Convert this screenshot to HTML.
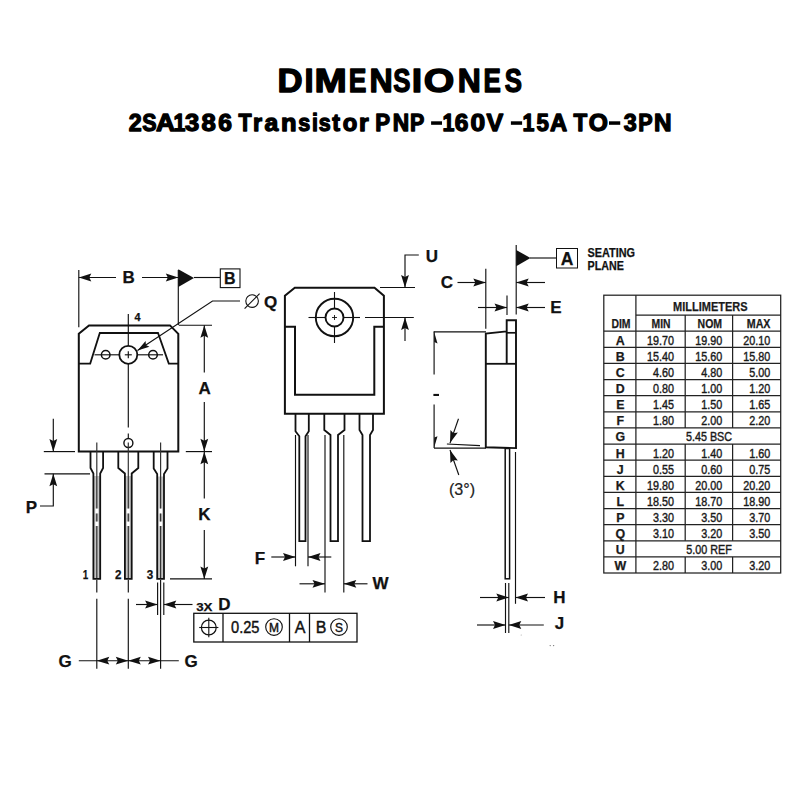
<!DOCTYPE html>
<html><head><meta charset="utf-8"><style>
html,body{margin:0;padding:0;background:#fff;width:800px;height:800px;overflow:hidden}
svg{display:block}
</style></head><body>
<svg width="800" height="800" viewBox="0 0 800 800">
<rect width="800" height="800" fill="#fff"/>
<path d="M89,325.4 L170,325.4 L178.3,333.8 L178.3,451.6 L78.8,451.6 L78.8,333.8 Z" fill="none" stroke="#111" stroke-width="2.0" stroke-linejoin="miter"/>
<path d="M78.8,363.6 L90.2,363.6 L99.8,333 L158,333 L168.8,363.6 L178.3,363.6" fill="none" stroke="#111" stroke-width="1.8" stroke-linejoin="miter"/>
<circle cx="128.3" cy="354.8" r="9.0" fill="none" stroke="#111" stroke-width="1.8"/>
<line x1="124.8" y1="354.8" x2="131.8" y2="354.8" stroke="#111" stroke-width="1.15" />
<line x1="128.3" y1="351.3" x2="128.3" y2="358.3" stroke="#111" stroke-width="1.15" />
<circle cx="105.7" cy="354.8" r="4.3" fill="none" stroke="#111" stroke-width="1.5"/>
<circle cx="153" cy="354.8" r="4.3" fill="none" stroke="#111" stroke-width="1.5"/>
<line x1="94.5" y1="354.8" x2="119.3" y2="354.8" stroke="#111" stroke-width="1.15" />
<line x1="137.3" y1="354.8" x2="163" y2="354.8" stroke="#111" stroke-width="1.15" />
<line x1="128.3" y1="314" x2="128.3" y2="345.8" stroke="#111" stroke-width="1.15" />
<line x1="128.3" y1="363.8" x2="128.3" y2="427.5" stroke="#111" stroke-width="1.15" />
<line x1="128.3" y1="433.5" x2="128.3" y2="438" stroke="#111" stroke-width="1.15" />
<circle cx="128.4" cy="443" r="4.5" fill="none" stroke="#111" stroke-width="1.4"/>
<text x="137.5" y="320.5" font-family="Liberation Sans" font-size="10" font-weight="bold" text-anchor="middle" fill="#111" textLength="6" lengthAdjust="spacingAndGlyphs" stroke="#111" stroke-width="0.25">4</text>
<line x1="78.8" y1="270" x2="78.8" y2="327.2" stroke="#111" stroke-width="1.15" />
<line x1="178.3" y1="270" x2="178.3" y2="325" stroke="#111" stroke-width="1.15" />
<line x1="116" y1="277.5" x2="78.8" y2="277.5" stroke="#111" stroke-width="1.15" />
<path d="M78.80,277.50 L91.30,281.40 L89.30,277.50 L91.30,273.60 Z" fill="#111" stroke="none"/>
<line x1="142" y1="277.5" x2="178.3" y2="277.5" stroke="#111" stroke-width="1.15" />
<path d="M178.30,277.50 L165.80,273.60 L167.80,277.50 L165.80,281.40 Z" fill="#111" stroke="none"/>
<text x="128.75" y="283.2" font-family="Liberation Sans" font-size="17" font-weight="bold" text-anchor="middle" fill="#111" stroke="#111" stroke-width="0.25">B</text>
<path d="M178.3,269.3 L194,278 L178.3,287 Z" fill="#111"/>
<line x1="194" y1="277.5" x2="220" y2="277.5" stroke="#111" stroke-width="1.15" />
<rect x="220.3" y="268.9" width="19.7" height="18.7" fill="none" stroke="#111" stroke-width="1.1"/>
<text x="229.8" y="284.4" font-family="Liberation Sans" font-size="16" font-weight="bold" text-anchor="middle" fill="#111" stroke="#111" stroke-width="0.25">B</text>
<path d="M240,301 L212.5,301 L137.5,350.5" fill="none" stroke="#111" stroke-width="1.15" stroke-linejoin="miter"/>
<path d="M137.50,350.50 L149.44,346.81 L145.91,344.95 L145.59,340.97 Z" fill="#111" stroke="none"/>
<circle cx="252.1" cy="301.1" r="6.3" fill="none" stroke="#111" stroke-width="1.1"/>
<line x1="244.6" y1="308.6" x2="259.6" y2="293.6" stroke="#111" stroke-width="1.1" />
<text x="264" y="308.0" font-family="Liberation Sans" font-size="17" font-weight="bold" text-anchor="start" fill="#111" stroke="#111" stroke-width="0.25">Q</text>
<line x1="178.8" y1="325.2" x2="212" y2="325.2" stroke="#111" stroke-width="1.15" />
<line x1="204.3" y1="372.5" x2="204.3" y2="325.2" stroke="#111" stroke-width="1.15" />
<path d="M204.30,325.20 L200.40,337.70 L204.30,335.70 L208.20,337.70 Z" fill="#111" stroke="none"/>
<text x="204.6" y="393.7" font-family="Liberation Sans" font-size="17" font-weight="bold" text-anchor="middle" fill="#111" stroke="#111" stroke-width="0.25">A</text>
<line x1="204.3" y1="402" x2="204.3" y2="451.3" stroke="#111" stroke-width="1.15" />
<path d="M204.30,451.30 L208.20,438.80 L204.30,440.80 L200.40,438.80 Z" fill="#111" stroke="none"/>
<line x1="185.8" y1="451.6" x2="212" y2="451.6" stroke="#111" stroke-width="1.15" />
<line x1="204.3" y1="498.5" x2="204.3" y2="451.8" stroke="#111" stroke-width="1.15" />
<path d="M204.30,451.80 L200.40,464.30 L204.30,462.30 L208.20,464.30 Z" fill="#111" stroke="none"/>
<text x="204.3" y="520.4" font-family="Liberation Sans" font-size="17" font-weight="bold" text-anchor="middle" fill="#111" stroke="#111" stroke-width="0.25">K</text>
<line x1="204.3" y1="530" x2="204.3" y2="579" stroke="#111" stroke-width="1.15" />
<path d="M204.30,579.00 L208.20,566.50 L204.30,568.50 L200.40,566.50 Z" fill="#111" stroke="none"/>
<line x1="170" y1="578.8" x2="212" y2="578.8" stroke="#111" stroke-width="1.15" />
<rect x="93.40" y="476.00" width="6.80" height="102.80" fill="#c4c4c4"/>
<path d="M90.5,451.6 L90.5,468 L93.39999999999999,473.5 L93.39999999999999,578.8 L100.2,578.8 L100.2,473.5 L103.1,468 L103.1,451.6" fill="none" stroke="#111" stroke-width="1.8" stroke-linejoin="miter"/>
<rect x="124.90" y="476.00" width="6.80" height="102.80" fill="#c4c4c4"/>
<path d="M118.30000000000001,451.6 L118.30000000000001,468 L124.9,473.5 L124.9,578.8 L131.70000000000002,578.8 L131.70000000000002,473.5 L138.3,468 L138.3,451.6" fill="none" stroke="#111" stroke-width="1.8" stroke-linejoin="miter"/>
<rect x="157.20" y="476.50" width="6.80" height="102.30" fill="#c4c4c4"/>
<path d="M153.7,451.6 L153.7,468.5 L157.2,474.0 L157.2,578.8 L164.0,578.8 L164.0,474.0 L167.5,468.5 L167.5,451.6" fill="none" stroke="#111" stroke-width="1.8" stroke-linejoin="miter"/>
<rect x="95.3" y="508.5" width="3" height="5" fill="#fff"/><rect x="95.3" y="521.5" width="3" height="4.5" fill="#fff"/>
<line x1="96.8" y1="442.5" x2="96.8" y2="508.5" stroke="#333" stroke-width="1.2" />
<line x1="96.8" y1="513.5" x2="96.8" y2="521.5" stroke="#333" stroke-width="1.2" />
<line x1="96.8" y1="526" x2="96.8" y2="578" stroke="#333" stroke-width="1.2" />
<rect x="126.80000000000001" y="508.5" width="3" height="5" fill="#fff"/><rect x="126.80000000000001" y="521.5" width="3" height="4.5" fill="#fff"/>
<line x1="128.3" y1="442.5" x2="128.3" y2="508.5" stroke="#333" stroke-width="1.2" />
<line x1="128.3" y1="513.5" x2="128.3" y2="521.5" stroke="#333" stroke-width="1.2" />
<line x1="128.3" y1="526" x2="128.3" y2="578" stroke="#333" stroke-width="1.2" />
<rect x="159.1" y="508.5" width="3" height="5" fill="#fff"/><rect x="159.1" y="521.5" width="3" height="4.5" fill="#fff"/>
<line x1="160.6" y1="442.5" x2="160.6" y2="508.5" stroke="#333" stroke-width="1.2" />
<line x1="160.6" y1="513.5" x2="160.6" y2="521.5" stroke="#333" stroke-width="1.2" />
<line x1="160.6" y1="526" x2="160.6" y2="578" stroke="#333" stroke-width="1.2" />
<text x="85.6" y="578.5" font-family="Liberation Sans" font-size="13" font-weight="bold" text-anchor="middle" fill="#111" textLength="5.5" lengthAdjust="spacingAndGlyphs" stroke="#111" stroke-width="0.25">1</text>
<text x="118.3" y="578.5" font-family="Liberation Sans" font-size="13" font-weight="bold" text-anchor="middle" fill="#111" textLength="6.5" lengthAdjust="spacingAndGlyphs" stroke="#111" stroke-width="0.25">2</text>
<text x="150" y="578.5" font-family="Liberation Sans" font-size="13" font-weight="bold" text-anchor="middle" fill="#111" textLength="6.5" lengthAdjust="spacingAndGlyphs" stroke="#111" stroke-width="0.25">3</text>
<line x1="43.8" y1="451.6" x2="75" y2="451.6" stroke="#111" stroke-width="1.15" />
<line x1="44.5" y1="473.8" x2="90" y2="473.8" stroke="#111" stroke-width="1.15" />
<line x1="53.3" y1="418.8" x2="53.3" y2="451.6" stroke="#111" stroke-width="1.15" />
<path d="M53.30,451.60 L57.20,439.10 L53.30,441.10 L49.40,439.10 Z" fill="#111" stroke="none"/>
<path d="M40,506 L53.3,506 L53.3,473.8" fill="none" stroke="#111" stroke-width="1.15" stroke-linejoin="miter"/>
<path d="M53.30,473.80 L49.40,486.30 L53.30,484.30 L57.20,486.30 Z" fill="#111" stroke="none"/>
<text x="31.3" y="513.1" font-family="Liberation Sans" font-size="17" font-weight="bold" text-anchor="middle" fill="#111" stroke="#111" stroke-width="0.25">P</text>
<line x1="96.8" y1="580" x2="96.8" y2="592.5" stroke="#111" stroke-width="1.15" />
<line x1="96.8" y1="598.7" x2="96.8" y2="668.8" stroke="#111" stroke-width="1.15" />
<line x1="128.3" y1="580" x2="128.3" y2="592.5" stroke="#111" stroke-width="1.15" />
<line x1="128.3" y1="598.7" x2="128.3" y2="668.8" stroke="#111" stroke-width="1.15" />
<line x1="160.6" y1="580" x2="160.6" y2="668.8" stroke="#111" stroke-width="1.15" />
<line x1="157.6" y1="582.5" x2="157.6" y2="615" stroke="#111" stroke-width="1.15" />
<line x1="163.8" y1="582.5" x2="163.8" y2="615" stroke="#111" stroke-width="1.15" />
<line x1="136" y1="604.5" x2="157.6" y2="604.5" stroke="#111" stroke-width="1.15" />
<path d="M157.60,604.50 L145.10,600.60 L147.10,604.50 L145.10,608.40 Z" fill="#111" stroke="none"/>
<line x1="192.5" y1="604.5" x2="163.8" y2="604.5" stroke="#111" stroke-width="1.15" />
<path d="M163.80,604.50 L176.30,608.40 L174.30,604.50 L176.30,600.60 Z" fill="#111" stroke="none"/>
<text x="196.2" y="610.5" font-family="Liberation Sans" font-size="11.5" font-weight="bold" text-anchor="start" fill="#111" textLength="16.3" lengthAdjust="spacingAndGlyphs" stroke="#111" stroke-width="0.25">3X</text>
<text x="218.2" y="609.9" font-family="Liberation Sans" font-size="17" font-weight="bold" text-anchor="start" fill="#111" stroke="#111" stroke-width="0.25">D</text>
<line x1="78.8" y1="660.7" x2="178.8" y2="660.7" stroke="#111" stroke-width="1.15" />
<path d="M96.80,660.70 L109.30,664.60 L107.30,660.70 L109.30,656.80 Z" fill="#111" stroke="none"/>
<path d="M128.30,660.70 L115.80,656.80 L117.80,660.70 L115.80,664.60 Z" fill="#111" stroke="none"/>
<path d="M128.30,660.70 L140.80,664.60 L138.80,660.70 L140.80,656.80 Z" fill="#111" stroke="none"/>
<path d="M160.50,660.70 L148.00,656.80 L150.00,660.70 L148.00,664.60 Z" fill="#111" stroke="none"/>
<text x="65" y="666.9" font-family="Liberation Sans" font-size="17" font-weight="bold" text-anchor="middle" fill="#111" stroke="#111" stroke-width="0.25">G</text>
<text x="191" y="666.9" font-family="Liberation Sans" font-size="17" font-weight="bold" text-anchor="middle" fill="#111" stroke="#111" stroke-width="0.25">G</text>
<text transform="translate(277.48,92.05) scale(1.0277,1)" font-family="Liberation Sans" font-size="33.79" font-weight="bold" fill="#000" stroke="#000" stroke-width="1.4" stroke-linejoin="round">D</text>
<text transform="translate(304.42,92.05) scale(0.9655,1)" font-family="Liberation Sans" font-size="33.79" font-weight="bold" fill="#000" stroke="#000" stroke-width="1.4" stroke-linejoin="round">I</text>
<text transform="translate(314.51,92.05) scale(1.1469,1)" font-family="Liberation Sans" font-size="33.79" font-weight="bold" fill="#000" stroke="#000" stroke-width="1.4" stroke-linejoin="round">M</text>
<text transform="translate(348.68,92.05) scale(0.7832,1)" font-family="Liberation Sans" font-size="33.79" font-weight="bold" fill="#000" stroke="#000" stroke-width="1.4" stroke-linejoin="round">E</text>
<text transform="translate(369.45,92.05) scale(0.9513,1)" font-family="Liberation Sans" font-size="33.79" font-weight="bold" fill="#000" stroke="#000" stroke-width="1.4" stroke-linejoin="round">N</text>
<text transform="translate(393.36,92.05) scale(0.7631,1)" font-family="Liberation Sans" font-size="33.79" font-weight="bold" fill="#000" stroke="#000" stroke-width="1.4" stroke-linejoin="round">S</text>
<text transform="translate(411.79,92.05) scale(1.1093,1)" font-family="Liberation Sans" font-size="33.79" font-weight="bold" fill="#000" stroke="#000" stroke-width="1.4" stroke-linejoin="round">I</text>
<text transform="translate(423.69,92.05) scale(1.1626,1)" font-family="Liberation Sans" font-size="33.79" font-weight="bold" fill="#000" stroke="#000" stroke-width="1.4" stroke-linejoin="round">O</text>
<text transform="translate(457.76,92.05) scale(0.9463,1)" font-family="Liberation Sans" font-size="33.79" font-weight="bold" fill="#000" stroke="#000" stroke-width="1.4" stroke-linejoin="round">N</text>
<text transform="translate(483.46,92.05) scale(0.7701,1)" font-family="Liberation Sans" font-size="33.79" font-weight="bold" fill="#000" stroke="#000" stroke-width="1.4" stroke-linejoin="round">E</text>
<text transform="translate(504.71,92.05) scale(0.7631,1)" font-family="Liberation Sans" font-size="33.79" font-weight="bold" fill="#000" stroke="#000" stroke-width="1.4" stroke-linejoin="round">S</text>
<text transform="translate(128.84,131.35) scale(0.9774,1)" font-family="Liberation Sans" font-size="23.80" font-weight="bold" fill="#000" stroke="#000" stroke-width="1.3" stroke-linejoin="round">2</text>
<text transform="translate(142.22,131.35) scale(0.9000,1)" font-family="Liberation Sans" font-size="23.80" font-weight="bold" fill="#000" stroke="#000" stroke-width="1.3" stroke-linejoin="round">S</text>
<text transform="translate(155.99,131.35) scale(1.1085,1)" font-family="Liberation Sans" font-size="23.80" font-weight="bold" fill="#000" stroke="#000" stroke-width="1.3" stroke-linejoin="round">A</text>
<text transform="translate(173.42,131.35) scale(0.9000,1)" font-family="Liberation Sans" font-size="23.80" font-weight="bold" fill="#000" stroke="#000" stroke-width="1.3" stroke-linejoin="round">1</text>
<text transform="translate(185.06,131.35) scale(1.0735,1)" font-family="Liberation Sans" font-size="23.80" font-weight="bold" fill="#000" stroke="#000" stroke-width="1.3" stroke-linejoin="round">3</text>
<text transform="translate(201.43,131.35) scale(1.0809,1)" font-family="Liberation Sans" font-size="23.80" font-weight="bold" fill="#000" stroke="#000" stroke-width="1.3" stroke-linejoin="round">8</text>
<text transform="translate(218.15,131.35) scale(1.0343,1)" font-family="Liberation Sans" font-size="23.80" font-weight="bold" fill="#000" stroke="#000" stroke-width="1.3" stroke-linejoin="round">6</text>
<text transform="translate(238.55,131.35) scale(0.9000,1)" font-family="Liberation Sans" font-size="23.80" font-weight="bold" fill="#000" stroke="#000" stroke-width="1.3" stroke-linejoin="round">T</text>
<text transform="translate(253.11,131.35) scale(0.9819,1)" font-family="Liberation Sans" font-size="23.80" font-weight="bold" fill="#000" stroke="#000" stroke-width="1.3" stroke-linejoin="round">r</text>
<text transform="translate(264.42,131.35) scale(1.0402,1)" font-family="Liberation Sans" font-size="23.80" font-weight="bold" fill="#000" stroke="#000" stroke-width="1.3" stroke-linejoin="round">a</text>
<text transform="translate(280.97,131.35) scale(1.0702,1)" font-family="Liberation Sans" font-size="23.80" font-weight="bold" fill="#000" stroke="#000" stroke-width="1.3" stroke-linejoin="round">n</text>
<text transform="translate(298.14,131.35) scale(0.9060,1)" font-family="Liberation Sans" font-size="23.80" font-weight="bold" fill="#000" stroke="#000" stroke-width="1.3" stroke-linejoin="round">s</text>
<text transform="translate(311.98,131.35) scale(0.9000,1)" font-family="Liberation Sans" font-size="23.80" font-weight="bold" fill="#000" stroke="#000" stroke-width="1.3" stroke-linejoin="round">i</text>
<text transform="translate(318.86,131.35) scale(0.9000,1)" font-family="Liberation Sans" font-size="23.80" font-weight="bold" fill="#000" stroke="#000" stroke-width="1.3" stroke-linejoin="round">s</text>
<text transform="translate(332.37,131.35) scale(0.9803,1)" font-family="Liberation Sans" font-size="23.80" font-weight="bold" fill="#000" stroke="#000" stroke-width="1.3" stroke-linejoin="round">t</text>
<text transform="translate(342.72,131.35) scale(1.0017,1)" font-family="Liberation Sans" font-size="23.80" font-weight="bold" fill="#000" stroke="#000" stroke-width="1.3" stroke-linejoin="round">o</text>
<text transform="translate(359.00,131.35) scale(1.0501,1)" font-family="Liberation Sans" font-size="23.80" font-weight="bold" fill="#000" stroke="#000" stroke-width="1.3" stroke-linejoin="round">r</text>
<text transform="translate(375.16,131.35) scale(0.9355,1)" font-family="Liberation Sans" font-size="23.80" font-weight="bold" fill="#000" stroke="#000" stroke-width="1.3" stroke-linejoin="round">P</text>
<text transform="translate(392.73,131.35) scale(0.9541,1)" font-family="Liberation Sans" font-size="23.80" font-weight="bold" fill="#000" stroke="#000" stroke-width="1.3" stroke-linejoin="round">N</text>
<text transform="translate(409.96,131.35) scale(0.9000,1)" font-family="Liberation Sans" font-size="23.80" font-weight="bold" fill="#000" stroke="#000" stroke-width="1.3" stroke-linejoin="round">P</text>
<rect x="431.10" y="121.30" width="10.90" height="3.5" fill="#000"/>
<text transform="translate(442.42,131.35) scale(0.9000,1)" font-family="Liberation Sans" font-size="23.80" font-weight="bold" fill="#000" stroke="#000" stroke-width="1.3" stroke-linejoin="round">1</text>
<text transform="translate(454.85,131.35) scale(1.0300,1)" font-family="Liberation Sans" font-size="23.80" font-weight="bold" fill="#000" stroke="#000" stroke-width="1.3" stroke-linejoin="round">6</text>
<text transform="translate(470.51,131.35) scale(1.1088,1)" font-family="Liberation Sans" font-size="23.80" font-weight="bold" fill="#000" stroke="#000" stroke-width="1.3" stroke-linejoin="round">0</text>
<text transform="translate(486.58,131.35) scale(1.0515,1)" font-family="Liberation Sans" font-size="23.80" font-weight="bold" fill="#000" stroke="#000" stroke-width="1.3" stroke-linejoin="round">V</text>
<rect x="510.90" y="121.30" width="11.20" height="3.5" fill="#000"/>
<text transform="translate(522.54,131.35) scale(0.9000,1)" font-family="Liberation Sans" font-size="23.80" font-weight="bold" fill="#000" stroke="#000" stroke-width="1.3" stroke-linejoin="round">1</text>
<text transform="translate(536.46,131.35) scale(0.9374,1)" font-family="Liberation Sans" font-size="23.80" font-weight="bold" fill="#000" stroke="#000" stroke-width="1.3" stroke-linejoin="round">5</text>
<text transform="translate(550.06,131.35) scale(0.9989,1)" font-family="Liberation Sans" font-size="23.80" font-weight="bold" fill="#000" stroke="#000" stroke-width="1.3" stroke-linejoin="round">A</text>
<text transform="translate(573.40,131.35) scale(0.9418,1)" font-family="Liberation Sans" font-size="23.80" font-weight="bold" fill="#000" stroke="#000" stroke-width="1.3" stroke-linejoin="round">T</text>
<text transform="translate(588.74,131.35) scale(1.0341,1)" font-family="Liberation Sans" font-size="23.80" font-weight="bold" fill="#000" stroke="#000" stroke-width="1.3" stroke-linejoin="round">O</text>
<rect x="609.00" y="121.30" width="11.25" height="3.5" fill="#000"/>
<text transform="translate(623.71,131.35) scale(0.9805,1)" font-family="Liberation Sans" font-size="23.80" font-weight="bold" fill="#000" stroke="#000" stroke-width="1.3" stroke-linejoin="round">3</text>
<text transform="translate(638.21,131.35) scale(0.9058,1)" font-family="Liberation Sans" font-size="23.80" font-weight="bold" fill="#000" stroke="#000" stroke-width="1.3" stroke-linejoin="round">P</text>
<text transform="translate(654.02,131.35) scale(1.0220,1)" font-family="Liberation Sans" font-size="23.80" font-weight="bold" fill="#000" stroke="#000" stroke-width="1.3" stroke-linejoin="round">N</text>
<path d="M294.8,287.8 L374.5,287.8 L383.9,295.8 L383.9,413.8 L284.9,413.8 L284.9,295.8 Z" fill="none" stroke="#111" stroke-width="2.0" stroke-linejoin="miter"/>
<path d="M284.9,326.7 L295,326.7 L295,394.7 L374.3,394.7 L374.3,326.7 L383.9,326.7" fill="none" stroke="#111" stroke-width="2.0" stroke-linejoin="miter"/>
<circle cx="334.5" cy="317.5" r="18.7" fill="none" stroke="#111" stroke-width="1.9"/>
<circle cx="334.5" cy="317.5" r="9.0" fill="none" stroke="#111" stroke-width="1.9"/>
<line x1="334.5" y1="292" x2="334.5" y2="308.5" stroke="#111" stroke-width="1.1" />
<line x1="334.5" y1="326.5" x2="334.5" y2="343" stroke="#111" stroke-width="1.1" />
<line x1="308.5" y1="317.5" x2="325.5" y2="317.5" stroke="#111" stroke-width="1.1" />
<line x1="343.5" y1="317.5" x2="360" y2="317.5" stroke="#111" stroke-width="1.1" />
<line x1="332" y1="317.5" x2="337" y2="317.5" stroke="#111" stroke-width="0.9" />
<line x1="334.5" y1="315" x2="334.5" y2="320" stroke="#111" stroke-width="0.9" />
<line x1="365" y1="317.5" x2="413.8" y2="317.5" stroke="#111" stroke-width="1.15" />
<path d="M295.5,413.8 L295.5,431.2 L299.3,436.2 L299.3,541.2 L305.5,541.2 L305.5,436.2 L308.8,431.2 L308.8,413.8" fill="none" stroke="#111" stroke-width="1.8" stroke-linejoin="miter"/>
<path d="M324.3,413.8 L324.3,430 L330.5,435 L330.5,541.2 L338,541.2 L338,435 L344.5,430 L344.5,413.8" fill="none" stroke="#111" stroke-width="1.8" stroke-linejoin="miter"/>
<path d="M359.5,413.8 L359.5,430 L362.5,435 L362.5,541.2 L370,541.2 L370,435 L373,430 L373,413.8" fill="none" stroke="#111" stroke-width="1.8" stroke-linejoin="miter"/>
<line x1="295.5" y1="435" x2="295.5" y2="566.3" stroke="#111" stroke-width="1.15" />
<line x1="308" y1="435" x2="308" y2="566.3" stroke="#111" stroke-width="1.15" />
<line x1="325" y1="435" x2="325" y2="592.5" stroke="#111" stroke-width="1.15" />
<line x1="343.8" y1="435" x2="343.8" y2="592.5" stroke="#111" stroke-width="1.15" />
<line x1="271.3" y1="557" x2="295.5" y2="557" stroke="#111" stroke-width="1.15" />
<path d="M295.50,557.00 L283.00,553.10 L285.00,557.00 L283.00,560.90 Z" fill="#111" stroke="none"/>
<line x1="331.3" y1="557" x2="308" y2="557" stroke="#111" stroke-width="1.15" />
<path d="M308.00,557.00 L320.50,560.90 L318.50,557.00 L320.50,553.10 Z" fill="#111" stroke="none"/>
<text x="260" y="563.8" font-family="Liberation Sans" font-size="17" font-weight="bold" text-anchor="middle" fill="#111" stroke="#111" stroke-width="0.25">F</text>
<line x1="299.5" y1="583.8" x2="325" y2="583.8" stroke="#111" stroke-width="1.15" />
<path d="M325.00,583.80 L312.50,579.90 L314.50,583.80 L312.50,587.70 Z" fill="#111" stroke="none"/>
<line x1="367.5" y1="583.8" x2="343.8" y2="583.8" stroke="#111" stroke-width="1.15" />
<path d="M343.80,583.80 L356.30,587.70 L354.30,583.80 L356.30,579.90 Z" fill="#111" stroke="none"/>
<text x="380.5" y="589.4" font-family="Liberation Sans" font-size="17" font-weight="bold" text-anchor="middle" fill="#111" stroke="#111" stroke-width="0.25">W</text>
<line x1="380" y1="287.5" x2="415" y2="287.5" stroke="#111" stroke-width="1.15" />
<path d="M418.8,255 L405,255 L405,287.5" fill="none" stroke="#111" stroke-width="1.15" stroke-linejoin="miter"/>
<path d="M405.00,287.50 L408.90,275.00 L405.00,277.00 L401.10,275.00 Z" fill="#111" stroke="none"/>
<line x1="405" y1="341" x2="405" y2="317.5" stroke="#111" stroke-width="1.15" />
<path d="M405.00,317.50 L401.10,330.00 L405.00,328.00 L408.90,330.00 Z" fill="#111" stroke="none"/>
<text x="431.8" y="261.9" font-family="Liberation Sans" font-size="17" font-weight="bold" text-anchor="middle" fill="#111" stroke="#111" stroke-width="0.25">U</text>
<line x1="516.2" y1="245" x2="516.2" y2="314.5" stroke="#111" stroke-width="1.15" />
<path d="M516.2,250 L530.5,258 L516.2,266.3 Z" fill="#111"/>
<line x1="530" y1="258" x2="556.3" y2="258" stroke="#111" stroke-width="1.15" />
<rect x="556.5" y="248.5" width="21" height="19.5" fill="none" stroke="#111" stroke-width="1"/>
<text x="567" y="265" font-family="Liberation Sans" font-size="17.5" font-weight="bold" text-anchor="middle" fill="#111" stroke="#111" stroke-width="0.25">A</text>
<text x="587.5" y="257" font-family="Liberation Sans" font-size="12" font-weight="bold" text-anchor="start" fill="#111" textLength="47.5" lengthAdjust="spacingAndGlyphs" stroke="#111" stroke-width="0.25">SEATING</text>
<text x="587.5" y="270" font-family="Liberation Sans" font-size="12" font-weight="bold" text-anchor="start" fill="#111" textLength="36.3" lengthAdjust="spacingAndGlyphs" stroke="#111" stroke-width="0.25">PLANE</text>
<line x1="485.8" y1="268.8" x2="485.8" y2="328.8" stroke="#111" stroke-width="1.15" />
<line x1="457.5" y1="282.5" x2="485.8" y2="282.5" stroke="#111" stroke-width="1.15" />
<path d="M485.80,282.50 L473.30,278.60 L475.30,282.50 L473.30,286.40 Z" fill="#111" stroke="none"/>
<line x1="545" y1="282.5" x2="516.2" y2="282.5" stroke="#111" stroke-width="1.15" />
<path d="M516.20,282.50 L528.70,286.40 L526.70,282.50 L528.70,278.60 Z" fill="#111" stroke="none"/>
<text x="447" y="288.4" font-family="Liberation Sans" font-size="17" font-weight="bold" text-anchor="middle" fill="#111" stroke="#111" stroke-width="0.25">C</text>
<line x1="507" y1="295.5" x2="507" y2="315" stroke="#111" stroke-width="1.15" />
<line x1="478" y1="307.5" x2="507" y2="307.5" stroke="#111" stroke-width="1.15" />
<path d="M507.00,307.50 L494.50,303.60 L496.50,307.50 L494.50,311.40 Z" fill="#111" stroke="none"/>
<line x1="545" y1="307.5" x2="516.2" y2="307.5" stroke="#111" stroke-width="1.15" />
<path d="M516.20,307.50 L528.70,311.40 L526.70,307.50 L528.70,303.60 Z" fill="#111" stroke="none"/>
<text x="556" y="313.4" font-family="Liberation Sans" font-size="17" font-weight="bold" text-anchor="middle" fill="#111" stroke="#111" stroke-width="0.25">E</text>
<path d="M506.7,331.4 L485.8,333.5 L485.8,447.3 L516,448.1 L516,320.3 L506.7,320.3 L506.7,363.8" fill="none" stroke="#111" stroke-width="1.9" stroke-linejoin="miter"/>
<line x1="506.7" y1="332.8" x2="516" y2="332.8" stroke="#111" stroke-width="1.7" />
<line x1="485.8" y1="363.8" x2="516" y2="363.8" stroke="#111" stroke-width="1.8" />
<line x1="433.8" y1="331.8" x2="486" y2="331.8" stroke="#111" stroke-width="1.15" />
<line x1="434" y1="448.1" x2="486" y2="448.1" stroke="#111" stroke-width="1.15" />
<line x1="434.1" y1="331.5" x2="434.1" y2="374.6" stroke="#111" stroke-width="1.15" />
<line x1="434.1" y1="404.6" x2="434.1" y2="448.1" stroke="#111" stroke-width="1.15" />
<path d="M434,331.5 L437.5,343.5 L434.3,342 Z" fill="#111"/>
<path d="M434,448.1 L437.5,436.2 L434.3,437.6 Z" fill="#111"/>
<rect x="433.4" y="393.9" width="5.6" height="2.1" fill="#111"/>
<line x1="446.9" y1="444" x2="480" y2="445.6" stroke="#111" stroke-width="1.15" />
<line x1="458.5" y1="418.8" x2="450" y2="443.1" stroke="#111" stroke-width="1.15" />
<path d="M450.00,443.10 L457.81,432.59 L453.47,433.19 L450.45,430.01 Z" fill="#111" stroke="none"/>
<line x1="458.8" y1="475" x2="450" y2="450" stroke="#111" stroke-width="1.15" />
<path d="M450.00,450.00 L450.47,463.09 L453.49,459.90 L457.83,460.50 Z" fill="#111" stroke="none"/>
<text x="462" y="494.8" font-family="Liberation Sans" font-size="17" font-weight="normal" text-anchor="middle" fill="#222" textLength="26.2" lengthAdjust="spacingAndGlyphs" stroke="#222" stroke-width="0.2">(3°)</text>
<rect x="505.2" y="448.5" width="4.4" height="130.3" fill="none" stroke="#111" stroke-width="1.5"/>
<line x1="515.5" y1="452" x2="515.5" y2="603.8" stroke="#111" stroke-width="1.15" />
<line x1="505.5" y1="583" x2="505.5" y2="633" stroke="#111" stroke-width="1.15" />
<line x1="508.8" y1="583" x2="508.8" y2="633" stroke="#111" stroke-width="1.15" />
<line x1="480" y1="597.5" x2="508.8" y2="597.5" stroke="#111" stroke-width="1.15" />
<path d="M508.80,597.50 L496.30,593.60 L498.30,597.50 L496.30,601.40 Z" fill="#111" stroke="none"/>
<line x1="545" y1="597.5" x2="515.5" y2="597.5" stroke="#111" stroke-width="1.15" />
<path d="M515.50,597.50 L528.00,601.40 L526.00,597.50 L528.00,593.60 Z" fill="#111" stroke="none"/>
<text x="559.5" y="602.8" font-family="Liberation Sans" font-size="17" font-weight="bold" text-anchor="middle" fill="#111" stroke="#111" stroke-width="0.25">H</text>
<line x1="477" y1="625" x2="505.5" y2="625" stroke="#111" stroke-width="1.15" />
<path d="M505.50,625.00 L493.00,621.10 L495.00,625.00 L493.00,628.90 Z" fill="#111" stroke="none"/>
<line x1="543.8" y1="625" x2="508.8" y2="625" stroke="#111" stroke-width="1.15" />
<path d="M508.80,625.00 L521.30,628.90 L519.30,625.00 L521.30,621.10 Z" fill="#111" stroke="none"/>
<text x="559.5" y="629.0" font-family="Liberation Sans" font-size="17" font-weight="bold" text-anchor="middle" fill="#111" stroke="#111" stroke-width="0.25">J</text>
<rect x="193.8" y="613.3" width="163.2" height="28.7" fill="none" stroke="#111" stroke-width="1.3"/>
<line x1="223" y1="613.3" x2="223" y2="642" stroke="#111" stroke-width="1.3" />
<line x1="289.5" y1="613.3" x2="289.5" y2="642" stroke="#111" stroke-width="1.3" />
<line x1="309.5" y1="613.3" x2="309.5" y2="642" stroke="#111" stroke-width="1.3" />
<circle cx="208.8" cy="627.5" r="7.4" fill="none" stroke="#111" stroke-width="1.2"/>
<line x1="199.2" y1="627.5" x2="218.4" y2="627.5" stroke="#111" stroke-width="1.1" />
<line x1="208.8" y1="617.8" x2="208.8" y2="637.3" stroke="#111" stroke-width="1.1" />
<text x="231" y="632.5" font-family="Liberation Sans" font-size="16" font-weight="normal" text-anchor="start" fill="#111" textLength="28.5" lengthAdjust="spacingAndGlyphs" stroke="#111" stroke-width="0.4">0.25</text>
<circle cx="274" cy="627" r="8.3" fill="none" stroke="#111" stroke-width="1.15"/>
<text x="274" y="631.6" font-family="Liberation Sans" font-size="12" font-weight="normal" text-anchor="middle" fill="#111" textLength="10" lengthAdjust="spacingAndGlyphs" stroke="#111" stroke-width="0.4">M</text>
<text x="300" y="632.5" font-family="Liberation Sans" font-size="16" font-weight="normal" text-anchor="middle" fill="#111" stroke="#111" stroke-width="0.4">A</text>
<text x="321" y="632.5" font-family="Liberation Sans" font-size="16" font-weight="normal" text-anchor="middle" fill="#111" stroke="#111" stroke-width="0.4">B</text>
<circle cx="339" cy="627" r="8.3" fill="none" stroke="#111" stroke-width="1.15"/>
<text x="339" y="631.8" font-family="Liberation Sans" font-size="12.5" font-weight="normal" text-anchor="middle" fill="#111" textLength="8" lengthAdjust="spacingAndGlyphs" stroke="#111" stroke-width="0.4">S</text>
<circle cx="550.2" cy="645.6" r="0.7" fill="#777"/><circle cx="553.6" cy="645.6" r="0.7" fill="#777"/><circle cx="521.2" cy="635" r="0.5" fill="#999"/>
<rect x="603.8" y="295.2" width="176.90" height="277.80" fill="none" stroke="#222" stroke-width="1.25"/>
<line x1="635.9" y1="295.2" x2="635.9" y2="573.0" stroke="#222" stroke-width="1.25" />
<line x1="635.9" y1="315" x2="780.7" y2="315" stroke="#222" stroke-width="1.25" />
<line x1="603.8" y1="331.2" x2="780.7" y2="331.2" stroke="#222" stroke-width="1.25" />
<line x1="603.8" y1="347.32" x2="780.7" y2="347.32" stroke="#222" stroke-width="1.25" />
<line x1="603.8" y1="363.44" x2="780.7" y2="363.44" stroke="#222" stroke-width="1.25" />
<line x1="603.8" y1="379.56" x2="780.7" y2="379.56" stroke="#222" stroke-width="1.25" />
<line x1="603.8" y1="395.68" x2="780.7" y2="395.68" stroke="#222" stroke-width="1.25" />
<line x1="603.8" y1="411.8" x2="780.7" y2="411.8" stroke="#222" stroke-width="1.25" />
<line x1="603.8" y1="427.91999999999996" x2="780.7" y2="427.91999999999996" stroke="#222" stroke-width="1.25" />
<line x1="603.8" y1="444.03999999999996" x2="780.7" y2="444.03999999999996" stroke="#222" stroke-width="1.25" />
<line x1="603.8" y1="460.15999999999997" x2="780.7" y2="460.15999999999997" stroke="#222" stroke-width="1.25" />
<line x1="603.8" y1="476.28" x2="780.7" y2="476.28" stroke="#222" stroke-width="1.25" />
<line x1="603.8" y1="492.4" x2="780.7" y2="492.4" stroke="#222" stroke-width="1.25" />
<line x1="603.8" y1="508.52" x2="780.7" y2="508.52" stroke="#222" stroke-width="1.25" />
<line x1="603.8" y1="524.64" x2="780.7" y2="524.64" stroke="#222" stroke-width="1.25" />
<line x1="603.8" y1="540.76" x2="780.7" y2="540.76" stroke="#222" stroke-width="1.25" />
<line x1="603.8" y1="556.88" x2="780.7" y2="556.88" stroke="#222" stroke-width="1.25" />
<line x1="685.2" y1="315" x2="685.2" y2="427.91999999999996" stroke="#222" stroke-width="1.25" />
<line x1="685.2" y1="444.03999999999996" x2="685.2" y2="540.76" stroke="#222" stroke-width="1.25" />
<line x1="685.2" y1="556.88" x2="685.2" y2="573.0" stroke="#222" stroke-width="1.25" />
<line x1="732.6" y1="315" x2="732.6" y2="427.91999999999996" stroke="#222" stroke-width="1.25" />
<line x1="732.6" y1="444.03999999999996" x2="732.6" y2="540.76" stroke="#222" stroke-width="1.25" />
<line x1="732.6" y1="556.88" x2="732.6" y2="573.0" stroke="#222" stroke-width="1.25" />
<text x="710.3" y="311.3" font-family="Liberation Sans" font-size="12.4" font-weight="bold" text-anchor="middle" fill="#1a1a1a" textLength="74.5" lengthAdjust="spacingAndGlyphs" stroke="#1a1a1a" stroke-width="0.25">MILLIMETERS</text>
<text x="621" y="328.2" font-family="Liberation Sans" font-size="12.4" font-weight="bold" text-anchor="middle" fill="#1a1a1a" textLength="19.1" lengthAdjust="spacingAndGlyphs" stroke="#1a1a1a" stroke-width="0.25">DIM</text>
<text x="661.1" y="328.2" font-family="Liberation Sans" font-size="12.4" font-weight="bold" text-anchor="middle" fill="#1a1a1a" textLength="19" lengthAdjust="spacingAndGlyphs" stroke="#1a1a1a" stroke-width="0.25">MIN</text>
<text x="709.8" y="328.2" font-family="Liberation Sans" font-size="12.4" font-weight="bold" text-anchor="middle" fill="#1a1a1a" textLength="24.5" lengthAdjust="spacingAndGlyphs" stroke="#1a1a1a" stroke-width="0.25">NOM</text>
<text x="758.6" y="328.2" font-family="Liberation Sans" font-size="12.4" font-weight="bold" text-anchor="middle" fill="#1a1a1a" textLength="23.7" lengthAdjust="spacingAndGlyphs" stroke="#1a1a1a" stroke-width="0.25">MAX</text>
<text x="620.3" y="344.71999999999997" font-family="Liberation Sans" font-size="12.4" font-weight="bold" text-anchor="middle" fill="#1a1a1a" stroke="#1a1a1a" stroke-width="0.25">A</text>
<text x="674" y="344.71999999999997" font-family="Liberation Sans" font-size="12.4" font-weight="normal" text-anchor="end" fill="#1a1a1a" textLength="26.99" lengthAdjust="spacingAndGlyphs" stroke="#1a1a1a" stroke-width="0.4">19.70</text>
<text x="722.3" y="344.71999999999997" font-family="Liberation Sans" font-size="12.4" font-weight="normal" text-anchor="end" fill="#1a1a1a" textLength="26.99" lengthAdjust="spacingAndGlyphs" stroke="#1a1a1a" stroke-width="0.4">19.90</text>
<text x="770.2" y="344.71999999999997" font-family="Liberation Sans" font-size="12.4" font-weight="normal" text-anchor="end" fill="#1a1a1a" textLength="26.99" lengthAdjust="spacingAndGlyphs" stroke="#1a1a1a" stroke-width="0.4">20.10</text>
<text x="620.3" y="360.84" font-family="Liberation Sans" font-size="12.4" font-weight="bold" text-anchor="middle" fill="#1a1a1a" stroke="#1a1a1a" stroke-width="0.25">B</text>
<text x="674" y="360.84" font-family="Liberation Sans" font-size="12.4" font-weight="normal" text-anchor="end" fill="#1a1a1a" textLength="26.99" lengthAdjust="spacingAndGlyphs" stroke="#1a1a1a" stroke-width="0.4">15.40</text>
<text x="722.3" y="360.84" font-family="Liberation Sans" font-size="12.4" font-weight="normal" text-anchor="end" fill="#1a1a1a" textLength="26.99" lengthAdjust="spacingAndGlyphs" stroke="#1a1a1a" stroke-width="0.4">15.60</text>
<text x="770.2" y="360.84" font-family="Liberation Sans" font-size="12.4" font-weight="normal" text-anchor="end" fill="#1a1a1a" textLength="26.99" lengthAdjust="spacingAndGlyphs" stroke="#1a1a1a" stroke-width="0.4">15.80</text>
<text x="620.3" y="376.96" font-family="Liberation Sans" font-size="12.4" font-weight="bold" text-anchor="middle" fill="#1a1a1a" stroke="#1a1a1a" stroke-width="0.25">C</text>
<text x="674" y="376.96" font-family="Liberation Sans" font-size="12.4" font-weight="normal" text-anchor="end" fill="#1a1a1a" textLength="20.99" lengthAdjust="spacingAndGlyphs" stroke="#1a1a1a" stroke-width="0.4">4.60</text>
<text x="722.3" y="376.96" font-family="Liberation Sans" font-size="12.4" font-weight="normal" text-anchor="end" fill="#1a1a1a" textLength="20.99" lengthAdjust="spacingAndGlyphs" stroke="#1a1a1a" stroke-width="0.4">4.80</text>
<text x="770.2" y="376.96" font-family="Liberation Sans" font-size="12.4" font-weight="normal" text-anchor="end" fill="#1a1a1a" textLength="20.99" lengthAdjust="spacingAndGlyphs" stroke="#1a1a1a" stroke-width="0.4">5.00</text>
<text x="620.3" y="393.08" font-family="Liberation Sans" font-size="12.4" font-weight="bold" text-anchor="middle" fill="#1a1a1a" stroke="#1a1a1a" stroke-width="0.25">D</text>
<text x="674" y="393.08" font-family="Liberation Sans" font-size="12.4" font-weight="normal" text-anchor="end" fill="#1a1a1a" textLength="20.99" lengthAdjust="spacingAndGlyphs" stroke="#1a1a1a" stroke-width="0.4">0.80</text>
<text x="722.3" y="393.08" font-family="Liberation Sans" font-size="12.4" font-weight="normal" text-anchor="end" fill="#1a1a1a" textLength="20.99" lengthAdjust="spacingAndGlyphs" stroke="#1a1a1a" stroke-width="0.4">1.00</text>
<text x="770.2" y="393.08" font-family="Liberation Sans" font-size="12.4" font-weight="normal" text-anchor="end" fill="#1a1a1a" textLength="20.99" lengthAdjust="spacingAndGlyphs" stroke="#1a1a1a" stroke-width="0.4">1.20</text>
<text x="620.3" y="409.2" font-family="Liberation Sans" font-size="12.4" font-weight="bold" text-anchor="middle" fill="#1a1a1a" stroke="#1a1a1a" stroke-width="0.25">E</text>
<text x="674" y="409.2" font-family="Liberation Sans" font-size="12.4" font-weight="normal" text-anchor="end" fill="#1a1a1a" textLength="20.99" lengthAdjust="spacingAndGlyphs" stroke="#1a1a1a" stroke-width="0.4">1.45</text>
<text x="722.3" y="409.2" font-family="Liberation Sans" font-size="12.4" font-weight="normal" text-anchor="end" fill="#1a1a1a" textLength="20.99" lengthAdjust="spacingAndGlyphs" stroke="#1a1a1a" stroke-width="0.4">1.50</text>
<text x="770.2" y="409.2" font-family="Liberation Sans" font-size="12.4" font-weight="normal" text-anchor="end" fill="#1a1a1a" textLength="20.99" lengthAdjust="spacingAndGlyphs" stroke="#1a1a1a" stroke-width="0.4">1.65</text>
<text x="620.3" y="425.31999999999994" font-family="Liberation Sans" font-size="12.4" font-weight="bold" text-anchor="middle" fill="#1a1a1a" stroke="#1a1a1a" stroke-width="0.25">F</text>
<text x="674" y="425.31999999999994" font-family="Liberation Sans" font-size="12.4" font-weight="normal" text-anchor="end" fill="#1a1a1a" textLength="20.99" lengthAdjust="spacingAndGlyphs" stroke="#1a1a1a" stroke-width="0.4">1.80</text>
<text x="722.3" y="425.31999999999994" font-family="Liberation Sans" font-size="12.4" font-weight="normal" text-anchor="end" fill="#1a1a1a" textLength="20.99" lengthAdjust="spacingAndGlyphs" stroke="#1a1a1a" stroke-width="0.4">2.00</text>
<text x="770.2" y="425.31999999999994" font-family="Liberation Sans" font-size="12.4" font-weight="normal" text-anchor="end" fill="#1a1a1a" textLength="20.99" lengthAdjust="spacingAndGlyphs" stroke="#1a1a1a" stroke-width="0.4">2.20</text>
<text x="620.3" y="441.43999999999994" font-family="Liberation Sans" font-size="12.4" font-weight="bold" text-anchor="middle" fill="#1a1a1a" stroke="#1a1a1a" stroke-width="0.25">G</text>
<text x="709" y="441.43999999999994" font-family="Liberation Sans" font-size="12.4" font-weight="normal" text-anchor="middle" fill="#1a1a1a" textLength="46.17" lengthAdjust="spacingAndGlyphs" stroke="#1a1a1a" stroke-width="0.4">5.45 BSC</text>
<text x="620.3" y="457.55999999999995" font-family="Liberation Sans" font-size="12.4" font-weight="bold" text-anchor="middle" fill="#1a1a1a" stroke="#1a1a1a" stroke-width="0.25">H</text>
<text x="674" y="457.55999999999995" font-family="Liberation Sans" font-size="12.4" font-weight="normal" text-anchor="end" fill="#1a1a1a" textLength="20.99" lengthAdjust="spacingAndGlyphs" stroke="#1a1a1a" stroke-width="0.4">1.20</text>
<text x="722.3" y="457.55999999999995" font-family="Liberation Sans" font-size="12.4" font-weight="normal" text-anchor="end" fill="#1a1a1a" textLength="20.99" lengthAdjust="spacingAndGlyphs" stroke="#1a1a1a" stroke-width="0.4">1.40</text>
<text x="770.2" y="457.55999999999995" font-family="Liberation Sans" font-size="12.4" font-weight="normal" text-anchor="end" fill="#1a1a1a" textLength="20.99" lengthAdjust="spacingAndGlyphs" stroke="#1a1a1a" stroke-width="0.4">1.60</text>
<text x="620.3" y="473.67999999999995" font-family="Liberation Sans" font-size="12.4" font-weight="bold" text-anchor="middle" fill="#1a1a1a" stroke="#1a1a1a" stroke-width="0.25">J</text>
<text x="674" y="473.67999999999995" font-family="Liberation Sans" font-size="12.4" font-weight="normal" text-anchor="end" fill="#1a1a1a" textLength="20.99" lengthAdjust="spacingAndGlyphs" stroke="#1a1a1a" stroke-width="0.4">0.55</text>
<text x="722.3" y="473.67999999999995" font-family="Liberation Sans" font-size="12.4" font-weight="normal" text-anchor="end" fill="#1a1a1a" textLength="20.99" lengthAdjust="spacingAndGlyphs" stroke="#1a1a1a" stroke-width="0.4">0.60</text>
<text x="770.2" y="473.67999999999995" font-family="Liberation Sans" font-size="12.4" font-weight="normal" text-anchor="end" fill="#1a1a1a" textLength="20.99" lengthAdjust="spacingAndGlyphs" stroke="#1a1a1a" stroke-width="0.4">0.75</text>
<text x="620.3" y="489.79999999999995" font-family="Liberation Sans" font-size="12.4" font-weight="bold" text-anchor="middle" fill="#1a1a1a" stroke="#1a1a1a" stroke-width="0.25">K</text>
<text x="674" y="489.79999999999995" font-family="Liberation Sans" font-size="12.4" font-weight="normal" text-anchor="end" fill="#1a1a1a" textLength="26.99" lengthAdjust="spacingAndGlyphs" stroke="#1a1a1a" stroke-width="0.4">19.80</text>
<text x="722.3" y="489.79999999999995" font-family="Liberation Sans" font-size="12.4" font-weight="normal" text-anchor="end" fill="#1a1a1a" textLength="26.99" lengthAdjust="spacingAndGlyphs" stroke="#1a1a1a" stroke-width="0.4">20.00</text>
<text x="770.2" y="489.79999999999995" font-family="Liberation Sans" font-size="12.4" font-weight="normal" text-anchor="end" fill="#1a1a1a" textLength="26.99" lengthAdjust="spacingAndGlyphs" stroke="#1a1a1a" stroke-width="0.4">20.20</text>
<text x="620.3" y="505.91999999999996" font-family="Liberation Sans" font-size="12.4" font-weight="bold" text-anchor="middle" fill="#1a1a1a" stroke="#1a1a1a" stroke-width="0.25">L</text>
<text x="674" y="505.91999999999996" font-family="Liberation Sans" font-size="12.4" font-weight="normal" text-anchor="end" fill="#1a1a1a" textLength="26.99" lengthAdjust="spacingAndGlyphs" stroke="#1a1a1a" stroke-width="0.4">18.50</text>
<text x="722.3" y="505.91999999999996" font-family="Liberation Sans" font-size="12.4" font-weight="normal" text-anchor="end" fill="#1a1a1a" textLength="26.99" lengthAdjust="spacingAndGlyphs" stroke="#1a1a1a" stroke-width="0.4">18.70</text>
<text x="770.2" y="505.91999999999996" font-family="Liberation Sans" font-size="12.4" font-weight="normal" text-anchor="end" fill="#1a1a1a" textLength="26.99" lengthAdjust="spacingAndGlyphs" stroke="#1a1a1a" stroke-width="0.4">18.90</text>
<text x="620.3" y="522.04" font-family="Liberation Sans" font-size="12.4" font-weight="bold" text-anchor="middle" fill="#1a1a1a" stroke="#1a1a1a" stroke-width="0.25">P</text>
<text x="674" y="522.04" font-family="Liberation Sans" font-size="12.4" font-weight="normal" text-anchor="end" fill="#1a1a1a" textLength="20.99" lengthAdjust="spacingAndGlyphs" stroke="#1a1a1a" stroke-width="0.4">3.30</text>
<text x="722.3" y="522.04" font-family="Liberation Sans" font-size="12.4" font-weight="normal" text-anchor="end" fill="#1a1a1a" textLength="20.99" lengthAdjust="spacingAndGlyphs" stroke="#1a1a1a" stroke-width="0.4">3.50</text>
<text x="770.2" y="522.04" font-family="Liberation Sans" font-size="12.4" font-weight="normal" text-anchor="end" fill="#1a1a1a" textLength="20.99" lengthAdjust="spacingAndGlyphs" stroke="#1a1a1a" stroke-width="0.4">3.70</text>
<text x="620.3" y="538.16" font-family="Liberation Sans" font-size="12.4" font-weight="bold" text-anchor="middle" fill="#1a1a1a" stroke="#1a1a1a" stroke-width="0.25">Q</text>
<text x="674" y="538.16" font-family="Liberation Sans" font-size="12.4" font-weight="normal" text-anchor="end" fill="#1a1a1a" textLength="20.99" lengthAdjust="spacingAndGlyphs" stroke="#1a1a1a" stroke-width="0.4">3.10</text>
<text x="722.3" y="538.16" font-family="Liberation Sans" font-size="12.4" font-weight="normal" text-anchor="end" fill="#1a1a1a" textLength="20.99" lengthAdjust="spacingAndGlyphs" stroke="#1a1a1a" stroke-width="0.4">3.20</text>
<text x="770.2" y="538.16" font-family="Liberation Sans" font-size="12.4" font-weight="normal" text-anchor="end" fill="#1a1a1a" textLength="20.99" lengthAdjust="spacingAndGlyphs" stroke="#1a1a1a" stroke-width="0.4">3.50</text>
<text x="620.3" y="554.28" font-family="Liberation Sans" font-size="12.4" font-weight="bold" text-anchor="middle" fill="#1a1a1a" stroke="#1a1a1a" stroke-width="0.25">U</text>
<text x="709" y="554.28" font-family="Liberation Sans" font-size="12.4" font-weight="normal" text-anchor="middle" fill="#1a1a1a" textLength="45.57" lengthAdjust="spacingAndGlyphs" stroke="#1a1a1a" stroke-width="0.4">5.00 REF</text>
<text x="620.3" y="570.4" font-family="Liberation Sans" font-size="12.4" font-weight="bold" text-anchor="middle" fill="#1a1a1a" stroke="#1a1a1a" stroke-width="0.25">W</text>
<text x="674" y="570.4" font-family="Liberation Sans" font-size="12.4" font-weight="normal" text-anchor="end" fill="#1a1a1a" textLength="20.99" lengthAdjust="spacingAndGlyphs" stroke="#1a1a1a" stroke-width="0.4">2.80</text>
<text x="722.3" y="570.4" font-family="Liberation Sans" font-size="12.4" font-weight="normal" text-anchor="end" fill="#1a1a1a" textLength="20.99" lengthAdjust="spacingAndGlyphs" stroke="#1a1a1a" stroke-width="0.4">3.00</text>
<text x="770.2" y="570.4" font-family="Liberation Sans" font-size="12.4" font-weight="normal" text-anchor="end" fill="#1a1a1a" textLength="20.99" lengthAdjust="spacingAndGlyphs" stroke="#1a1a1a" stroke-width="0.4">3.20</text>
</svg>
</body></html>
